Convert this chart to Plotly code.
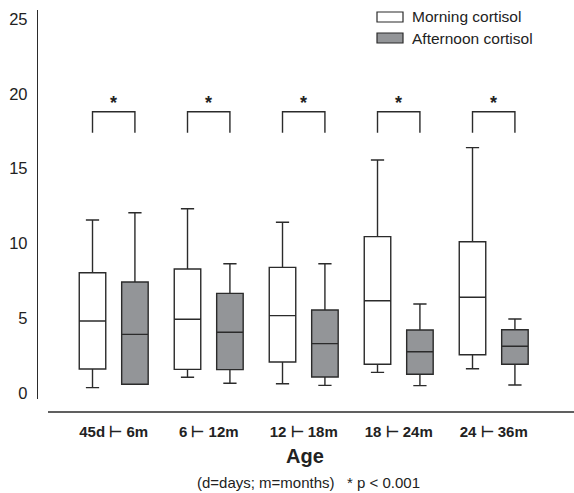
import plotly.graph_objects as go

categories = ["45d \u22a2 6m", "6 \u22a2 12m", "12 \u22a2 18m", "18 \u22a2 24m", "24 \u22a2 36m"]

morning_low = [0.36, 1.05, 0.62, 1.38, 1.62]
morning_q1 = [1.60, 1.58, 2.07, 1.92, 2.56]
morning_med = [4.81, 4.93, 5.17, 6.17, 6.40]
morning_q3 = [8.04, 8.29, 8.40, 10.45, 10.11]
morning_high = [11.56, 12.32, 11.41, 15.57, 16.40]

afternoon_low = [0.58, 0.65, 0.51, 0.49, 0.53]
afternoon_q1 = [0.58, 1.56, 1.07, 1.25, 1.92]
afternoon_med = [3.92, 4.06, 3.30, 2.76, 3.12]
afternoon_q3 = [7.42, 6.66, 5.55, 4.21, 4.23]
afternoon_high = [12.05, 8.64, 8.64, 5.95, 4.95]

y_ticks = [0, 5, 10, 15, 20, 25]
bracket_low = 17.4
bracket_high = 18.8
star_y = 19.4
series_names = ["Morning cortisol", "Afternoon cortisol"]

LINE = "#2b2b2b"
GRAY = "#939598"
FONT = "Liberation Sans, Arial, sans-serif"

fig = go.Figure()
fig.add_trace(go.Box(
    x=categories, q1=morning_q1, median=morning_med, q3=morning_q3,
    lowerfence=morning_low, upperfence=morning_high,
    name=series_names[0], fillcolor="white",
    line=dict(color=LINE, width=1.4), boxpoints=False, showlegend=False,
))
fig.add_trace(go.Box(
    x=categories, q1=afternoon_q1, median=afternoon_med, q3=afternoon_q3,
    lowerfence=afternoon_low, upperfence=afternoon_high,
    name=series_names[1], fillcolor=GRAY,
    line=dict(color=LINE, width=1.4), boxpoints=False, showlegend=False,
))

gf = 0.893  # 1 - boxgap
off = 0.25 * gf

shapes = []
annotations = []
for i, c in enumerate(categories):
    shapes.append(dict(type="path", xref="x", yref="y",
                       path=f"M {i-off},{bracket_low} L {i-off},{bracket_high} L {i+off},{bracket_high} L {i+off},{bracket_low}",
                       line=dict(color=LINE, width=1.4)))
    annotations.append(dict(x=i, y=star_y, xref="x", yref="y", text="<b>*</b>", showarrow=False,
                            font=dict(size=18, color="#222", family=FONT), yanchor="middle"))

W, H = 574, 493
L, R, T, B = 38, 0, 10, 94
pw, ph = W - L - R, H - T - B
def px(xp):
    return (xp - L) / pw
def py(yp):
    return (T + ph - yp) / ph

# detached x axis line
shapes.append(dict(type="line", xref="paper", yref="paper", x0=px(48), x1=1.0,
                   y0=py(412), y1=py(412), line=dict(color=LINE, width=1.4)))

# legend
for k, (name, fill, yc) in enumerate(zip(series_names, ["white", GRAY], [17, 38])):
    shapes.append(dict(type="rect", xref="paper", yref="paper",
                       x0=px(377), x1=px(403), y0=py(yc - 5), y1=py(yc + 5),
                       fillcolor=fill, line=dict(color=LINE, width=1.2)))
    annotations.append(dict(x=px(410), y=py(yc), xref="paper", yref="paper", text=name,
                            showarrow=False, xanchor="left", yanchor="middle",
                            font=dict(size=15.5, color="#222", family=FONT)))

annotations.append(dict(x=px(305), y=py(456), xref="paper", yref="paper", text="<b>Age</b>",
                        showarrow=False, xanchor="center", yanchor="middle",
                        font=dict(size=20, color="#222", family=FONT)))
annotations.append(dict(x=px(308), y=py(483), xref="paper", yref="paper",
                        text="(d=days; m=months)   * p &lt; 0.001",
                        showarrow=False, xanchor="center", yanchor="middle",
                        font=dict(size=15, color="#222", family=FONT)))

fig.update_layout(
    width=W, height=H,
    margin=dict(l=L, r=R, t=T, b=B),
    plot_bgcolor="white", paper_bgcolor="white",
    boxmode="group", boxgap=1 - gf, boxgroupgap=0.375,
    font=dict(family=FONT, color="#222"),
    shapes=shapes, annotations=annotations,
    xaxis=dict(range=[-0.797, -0.797 + pw / 95.0], showline=False, showgrid=False,
               zeroline=False, ticks="", tickfont=dict(size=15, family=FONT, weight="bold"),
               ticklabelstandoff=22, fixedrange=True),
    yaxis=dict(range=[-0.401, 25.6], tickvals=y_ticks, showline=True, linecolor=LINE,
               linewidth=1.4, showgrid=False, zeroline=False, ticks="",
               tickfont=dict(size=16.5, family=FONT), ticklabelstandoff=6, fixedrange=True),
)

fig.write_html("out.html", config={"displayModeBar": False},
               post_script="document.body.style.margin='0px';document.body.style.overflow='hidden';")
